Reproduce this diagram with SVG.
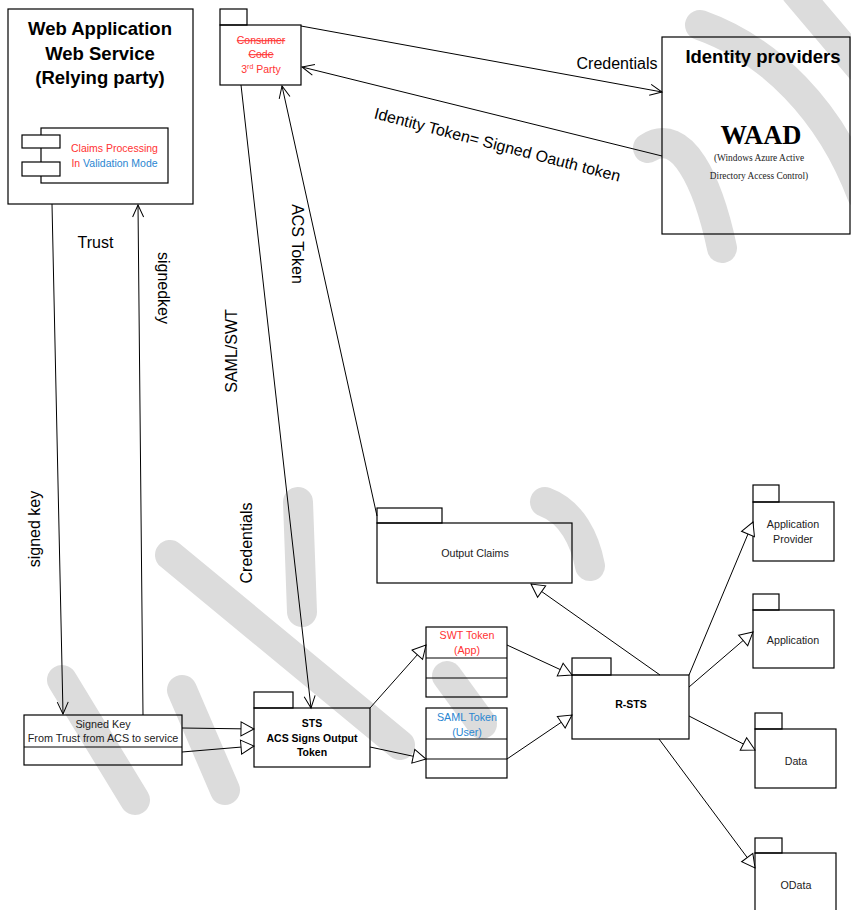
<svg xmlns="http://www.w3.org/2000/svg" width="851" height="910" viewBox="0 0 851 910">
  <style>
    .box { fill: none; stroke: #000000; stroke-width: 1.2; }
    .ln { fill: none; stroke: #000000; stroke-width: 1; }
    .wm { fill: none; stroke: #dcdcdc; stroke-width: 30; stroke-linecap: round; }
    .t { font-family: "Liberation Sans", Arial, sans-serif; fill: #222222; text-anchor: middle; }
    .title { font-family: "Liberation Sans", Arial, sans-serif; font-weight: bold; font-size: 18.5px; fill: #000000; text-anchor: middle; }
    .lbl { font-family: "Liberation Sans", Arial, sans-serif; font-size: 16px; fill: #000000; text-anchor: middle; }
    .b { font-weight: bold; fill: #000000; }
    .red { fill: #ff3333; }
    .blue { fill: #2a86d1; }
  </style>
  <defs>
    <marker id="open" viewBox="-14 -8 16 16" markerWidth="16" markerHeight="16" refX="0" refY="0" orient="auto" markerUnits="userSpaceOnUse" overflow="visible">
      <path d="M-12,-5.5 L0,0 L-12,5.5" fill="none" stroke="#000" stroke-width="1"/>
    </marker>
    <marker id="tri" viewBox="-15 -8 16 16" markerWidth="16" markerHeight="16" refX="0" refY="0" orient="auto" markerUnits="userSpaceOnUse" overflow="visible">
      <path d="M-13,-7 L0,0 L-13,7 Z" fill="#fff" stroke="#000" stroke-width="1"/>
    </marker>
  </defs>

  <rect x="0" y="0" width="851" height="910" fill="#ffffff"/>

  <!-- light grey background strokes -->
  <g id="background-strokes">
    <path class="wm" d="M170,555 L400,745"/>
    <path class="wm" d="M298,502 L302,612"/>
    <path class="wm" d="M62,680 L135,800"/>
    <path class="wm" d="M182,690 L225,790"/>
    <path class="wm" d="M796,-8 L862,70"/>
    <path class="wm" d="M700,25 C770,50 830,110 862,195"/>
    <path class="wm" d="M648,148 C682,126 708,182 722,248"/>
    <path class="wm" d="M545,502 C572,512 585,540 590,566"/>
    <path class="wm" d="M447,676 L482,724"/>
  </g>

  <!-- Relying party -->
  <g id="relying-party">
    <rect class="box" x="8" y="9" width="185" height="195"/>
    <text class="title" x="100" y="35">Web Application</text>
    <text class="title" x="100" y="60">Web Service</text>
    <text class="title" x="100" y="84">(Relying party)</text>
    <g id="claims-processing">
      <rect class="box" x="41" y="128" width="127" height="55"/>
      <rect class="box" x="22" y="135" width="38" height="13" style="fill:#fff"/>
      <rect class="box" x="22" y="162" width="38" height="14" style="fill:#fff"/>
      <text class="t red" x="114.5" y="152" font-size="10.5">Claims Processing</text>
      <text class="t" x="114.5" y="167" font-size="10.5"><tspan class="red">In </tspan><tspan class="blue">Validation Mode</tspan></text>
    </g>
  </g>

  <!-- Consumer code package -->
  <g id="consumer-code">
    <rect class="box" x="220" y="9" width="27" height="16"/>
    <rect class="box" x="220" y="25" width="81" height="60"/>
    <text class="t red" x="261" y="44" font-size="10.5" text-decoration="line-through">Consumer</text>
    <text class="t red" x="261" y="58" font-size="10.5" text-decoration="line-through">Code</text>
    <text class="t red" x="261" y="73" font-size="10.5">3<tspan font-size="7" dy="-4">rd</tspan><tspan dy="4"> Party</tspan></text>
  </g>

  <!-- Identity providers -->
  <g id="identity-providers">
    <rect class="box" x="662" y="37" width="188" height="197"/>
    <text class="title" x="763" y="63">Identity providers</text>
    <text x="761" y="144" font-family="'Liberation Serif', 'Times New Roman', serif" font-weight="bold" font-size="26.5" text-anchor="middle" fill="#000">WAAD</text>
    <text x="759" y="161" font-family="'Liberation Serif', 'Times New Roman', serif" font-size="9.4" text-anchor="middle" fill="#222">(Windows Azure Active</text>
    <text x="759" y="179" font-family="'Liberation Serif', 'Times New Roman', serif" font-size="9.4" text-anchor="middle" fill="#222">Directory Access Control)</text>
  </g>

  <!-- Signed key class -->
  <g id="signed-key">
    <rect class="box" x="24" y="715" width="158" height="50"/>
    <line class="ln" x1="24" y1="747" x2="182" y2="747"/>
    <text class="t" x="103" y="728" font-size="10.8">Signed Key</text>
    <text class="t" x="103" y="742" font-size="10.8">From Trust from ACS to service</text>
  </g>

  <!-- STS package -->
  <g id="sts">
    <rect class="box" x="254" y="692" width="39" height="16"/>
    <rect class="box" x="254" y="708" width="116" height="59"/>
    <text class="t b" x="312" y="727" font-size="10.5">STS</text>
    <text class="t b" x="312" y="742" font-size="10.5">ACS Signs Output</text>
    <text class="t b" x="312" y="756" font-size="10.5">Token</text>
  </g>

  <!-- Output claims package -->
  <g id="output-claims">
    <rect class="box" x="377" y="508" width="65" height="15"/>
    <rect class="box" x="377" y="523" width="195" height="60"/>
    <text class="t" x="475" y="557" font-size="10.7">Output Claims</text>
  </g>

  <!-- SWT token class -->
  <g id="swt-token">
    <rect class="box" x="426" y="627" width="81" height="70"/>
    <line class="ln" x1="426" y1="658" x2="507" y2="658"/>
    <line class="ln" x1="426" y1="678" x2="507" y2="678"/>
    <text class="t red" x="467" y="639" font-size="10.7">SWT Token</text>
    <text class="t red" x="467" y="654" font-size="10.7">(App)</text>
  </g>

  <!-- SAML token class -->
  <g id="saml-token">
    <rect class="box" x="426" y="708" width="81" height="70"/>
    <line class="ln" x1="426" y1="739" x2="507" y2="739"/>
    <line class="ln" x1="426" y1="759" x2="507" y2="759"/>
    <text class="t blue" x="467" y="721" font-size="10.7">SAML Token</text>
    <text class="t blue" x="467" y="736" font-size="10.7">(User)</text>
  </g>

  <!-- R-STS package -->
  <g id="r-sts">
    <rect class="box" x="572" y="658" width="39" height="17"/>
    <rect class="box" x="572" y="675" width="117" height="64"/>
    <text class="t b" x="631" y="708" font-size="10.5">R-STS</text>
  </g>

  <!-- Right-hand packages -->
  <g id="application-provider">
    <rect class="box" x="753" y="485" width="26" height="17"/>
    <rect class="box" x="753" y="502" width="81" height="59"/>
    <text class="t" x="793" y="528" font-size="10.7">Application</text>
    <text class="t" x="793" y="543" font-size="10.7">Provider</text>
  </g>
  <g id="application">
    <rect class="box" x="753" y="594" width="26" height="16"/>
    <rect class="box" x="753" y="610" width="81" height="58"/>
    <text class="t" x="793" y="644" font-size="10.7">Application</text>
  </g>
  <g id="data">
    <rect class="box" x="755" y="713" width="27" height="16"/>
    <rect class="box" x="755" y="729" width="81" height="59"/>
    <text class="t" x="796" y="765" font-size="10.7">Data</text>
  </g>
  <g id="odata">
    <rect class="box" x="755" y="838" width="27" height="15"/>
    <rect class="box" x="755" y="853" width="81" height="62"/>
    <text class="t" x="796" y="889" font-size="10.7">OData</text>
  </g>

  <!-- Connectors -->
  <g id="connectors">
    <line class="ln" x1="301" y1="26" x2="662" y2="92" marker-end="url(#open)"/>
    <line class="ln" x1="662" y1="156" x2="302" y2="67" marker-end="url(#open)"/>
    <line class="ln" x1="241" y1="85" x2="311" y2="708" marker-end="url(#open)"/>
    <line class="ln" x1="377" y1="516" x2="282" y2="86" marker-end="url(#open)"/>
    <line class="ln" x1="52" y1="204" x2="63" y2="714" marker-end="url(#open)"/>
    <line class="ln" x1="143" y1="715" x2="138" y2="205" marker-end="url(#open)"/>

    <line class="ln" x1="182" y1="728" x2="254" y2="729" marker-end="url(#tri)"/>
    <line class="ln" x1="182" y1="752" x2="254" y2="746" marker-end="url(#tri)"/>
    <line class="ln" x1="370" y1="708" x2="426" y2="645" marker-end="url(#tri)"/>
    <line class="ln" x1="370" y1="747" x2="426" y2="759" marker-end="url(#tri)"/>
    <line class="ln" x1="507" y1="645" x2="572" y2="675" marker-end="url(#tri)"/>
    <line class="ln" x1="507" y1="759" x2="572" y2="715" marker-end="url(#tri)"/>
    <line class="ln" x1="660" y1="675" x2="531" y2="584" marker-end="url(#tri)"/>
    <line class="ln" x1="689" y1="675" x2="753" y2="522" marker-end="url(#tri)"/>
    <line class="ln" x1="689" y1="687" x2="753" y2="632" marker-end="url(#tri)"/>
    <line class="ln" x1="689" y1="716" x2="755" y2="750" marker-end="url(#tri)"/>
    <line class="ln" x1="659" y1="739" x2="755" y2="868" marker-end="url(#tri)"/>

    <!-- connector labels -->
    <text class="lbl" x="617" y="69">Credentials</text>
    <text class="lbl" x="496" y="150" transform="rotate(14.5 496 150)">Identity Token= Signed Oauth token</text>
    <text class="lbl" x="95.5" y="248">Trust</text>
    <text class="lbl" x="158" y="288" transform="rotate(90 158 288)">signedkey</text>
    <text class="lbl" x="40" y="529" transform="rotate(-90 40 529)">signed key</text>
    <text class="lbl" x="237" y="351" transform="rotate(-90 237 351)">SAML/SWT</text>
    <text class="lbl" x="252" y="543" transform="rotate(-90 252 543)">Credentials</text>
    <text class="lbl" x="292" y="244" transform="rotate(90 292 244)">ACS Token</text>
  </g>
</svg>
